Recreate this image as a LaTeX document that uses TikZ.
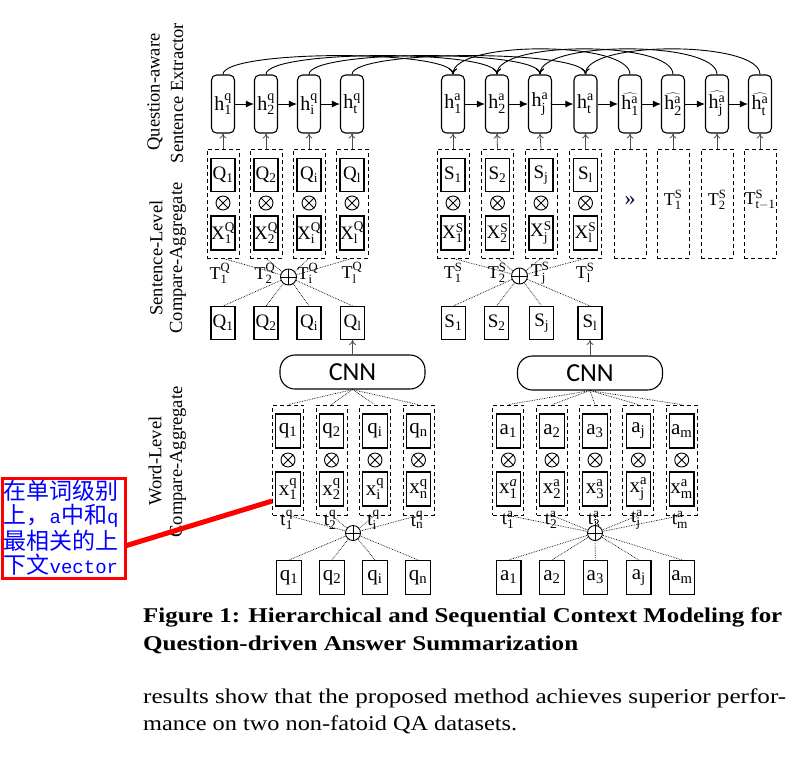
\documentclass[tikz,border=0pt]{standalone}
\usepackage{graphicx}
\usepackage{fontspec}
\setmainfont{Liberation Serif}
\newfontfamily\cjkf{Noto Sans CJK SC}
\newfontfamily\monof{Liberation Mono}
\newfontfamily\cnnf{Carlito}
\usetikzlibrary{arrows.meta,calc}
\newcommand{\lb}[3]{$\mathrm{#1}_{\mathrm{#2}}^{\mathrm{#3}}$}
\newcommand{\lbs}[2]{$\mathrm{#1}_{\mathrm{#2}}$}
\newcommand{\hh}[1]{$\widehat{\mathrm{h}_{\mathrm{#1}}^{\mathrm{a}}}$}
\newcommand{\mt}[1]{{\monof\fontsize{19}{24}\selectfont #1}}
\begin{document}
\begin{tikzpicture}[x=1pt,y=-1pt,
  hbox/.style={draw,line width=1.1pt,rounded corners=5pt,minimum width=23pt,minimum height=58pt,inner sep=0pt,font=\fontsize{20}{22}\selectfont},
  dbox/.style={draw,line width=0.8pt,dash pattern=on 4pt off 3pt,minimum width=32pt,minimum height=109pt,inner sep=0pt},
  wdbox/.style={dbox,minimum width=31pt,minimum height=110pt},
  sbox/.style={draw,line width=1.1pt,minimum width=24pt,minimum height=33pt,inner sep=0pt,font=\fontsize{19}{21}\selectfont},
  wbox/.style={draw,line width=1.1pt,minimum width=24.5pt,minimum height=34pt,inner sep=0pt,font=\fontsize{21}{23}\selectfont},
  tlab/.style={inner sep=0pt,font=\fontsize{18}{20}\selectfont},
  wtlab/.style={inner sep=0pt,font=\fontsize{19}{21}\selectfont},
  opl/.style={circle,draw,line width=0.9pt,fill=white,minimum size=16pt,inner sep=0pt},
  otm/.style={circle,draw,line width=0.9pt,minimum size=14pt,inner sep=0pt},
  dotl/.style={densely dotted,line width=0.7pt},
  uparr/.style={-{To[length=5pt,width=7pt]},line width=0.8pt,draw=black!70},
  arcln/.style={-{To[length=6pt,width=8pt]},line width=0.9pt},
  harr/.style={-{Latex[length=8pt,width=7pt]},line width=1pt},
  cnnbox/.style={draw,line width=1.1pt,rounded corners=15pt,minimum width=145pt,minimum height=34pt,font=\fontsize{26}{28}\cnnf},
  rl/.style={rotate=90,inner sep=0pt,font=\fontsize{18.5}{21}\selectfont},
  crossx/.style={line width=0.9pt}
]
\path[use as bounding box] (0,0) rectangle (808,756);

% rotated side labels
\node[rl] (l1) at (155,92) {Question-aware};
\node[rl] (l2) at (177,93) {Sentence Extractor};
\node[rl] (l3) at (156,258) {Sentence-Level};
\node[rl] (l4) at (178,258) {Compare-Aggregate};
\node[rl] (l5) at (155,461) {Word-Level};
\node[rl] (l6) at (178,462) {Compare-Aggregate};

% ---------- top h nodes ----------
\foreach \x/\s [count=\k] in {223/1,266/2,309/i,352/t}
  \node[hbox] (hq\k) at (\x,104) {\lb{h}{\s}{q}};
\foreach \x/\s [count=\k] in {453/1,497/2,540/j,585.5/t}
  \node[hbox] (ha\k) at (\x,104) {\lb{h}{\s}{a}};
\foreach \x/\s [count=\k] in {630/1,673/2,717/j,760/t}
  \node[hbox] (hh\k) at (\x,104) {\hh{\s}};

\foreach \i/\j in {1/2,2/3,3/4} \draw[harr] (hq\i) -- (hq\j);
\foreach \i/\j in {1/2,2/3,3/4} \draw[harr] (ha\i) -- (ha\j);
\draw[harr] (ha4) -- (hh1);
\foreach \i/\j in {1/2,2/3,3/4} \draw[harr] (hh\i) -- (hh\j);

\foreach \k in {1,...,4} {
  \draw[arcln] (hq\k.north) .. controls ($(hq\k.north)+(0,-25)$) and ($(ha\k.north)+(0,-25)$) .. (ha\k.north);
  \draw[arcln] (hh\k.north) .. controls ($(hh\k.north)+(0,-34)$) and ($(ha\k.north)+(0,-34)$) .. (ha\k.north);
}

% ---------- sentence level ----------
\foreach \x/\s [count=\k] in {223/1,266/2,309/i,352/l} {
  \node[dbox] (dq\k) at (\x,203.5) {};
  \node[sbox] (Qa\k) at (\x,175) {\lbs{Q}{\s}};
  \node[otm] (oq\k) at (\x,203) {};
  \draw[crossx] (oq\k.north east) -- (oq\k.south west) (oq\k.north west) -- (oq\k.south east);
  \node[sbox,minimum height=34pt] (Xq\k) at (\x,233) {\lb{X}{\s}{Q}};
  \draw[uparr] (dq\k.north) -- (hq\k.south);
}
\foreach \x/\s [count=\k] in {453/1,497.5/2,541/j,585.5/l} {
  \node[dbox] (ds\k) at (\x,203.5) {};
  \node[sbox] (Sa\k) at (\x,175) {\lbs{S}{\s}};
  \node[otm] (os\k) at (\x,203) {};
  \draw[crossx] (os\k.north east) -- (os\k.south west) (os\k.north west) -- (os\k.south east);
  \node[sbox,minimum height=34pt] (Xs\k) at (\x,233) {\lb{X}{\s}{S}};
  \draw[uparr] (ds\k.north) -- (ha\k.south);
}
\foreach \x [count=\k] in {630,673,717,760} {
  \node[dbox] (de\k) at (\x,203.5) {};
  \draw[uparr] (de\k.north) -- (hh\k.south);
}
\node[inner sep=0pt,font=\fontsize{22}{24}\selectfont,text=black!80!blue] (gg) at (630,201) {»};
\node[tlab] (te1) at (673,200) {\lb{T}{1}{S}};
\node[tlab] (te2) at (717,200) {\lb{T}{2}{S}};
\node[tlab] (te3) at (760,200) {\lb{T}{t-1}{S}};

% T labels
\foreach \x/\s [count=\k] in {220/1,265/2,308/i,352/l}
  \node[tlab] (tq\k) at (\x,273) {\lb{T}{\s}{Q}};
\foreach \x/\s [count=\k] in {453/1,497/2,540/j,585/l}
  \node[tlab] (ts\k) at (\x,273) {\lb{T}{\s}{S}};

% bottom sentence boxes
\foreach \x/\s [count=\k] in {223/1,266/2,309/i,352.5/l}
  \node[sbox] (Qb\k) at (\x,323) {\lbs{Q}{\s}};
\foreach \x/\s [count=\k] in {453.3/1,496.7/2,541.7/j,590/l}
  \node[sbox] (Sb\k) at (\x,323) {\lbs{S}{\s}};

\coordinate (opqc) at (288.5,277);
\coordinate (opsc) at (519.5,276);
\foreach \k in {1,...,4} {
  \draw[dotl] (dq\k.south) -- (opqc);
  \draw[dotl] (opqc) -- (Qb\k.north);
  \draw[dotl] (ds\k.south) -- (opsc);
  \draw[dotl] (opsc) -- (Sb\k.north);
}
\node[opl] (opq) at (opqc) {};
\draw[crossx] (opq.north) -- (opq.south) (opq.west) -- (opq.east);
\node[opl] (ops) at (opsc) {};
\draw[crossx] (ops.north) -- (ops.south) (ops.west) -- (ops.east);

% ---------- CNN ----------
\node[cnnbox] (cnnq) at (352.5,372) {CNN};
\node[cnnbox] (cnna) at (590,373) {CNN};
\draw[uparr] (cnnq.north) -- (Qb4.south);
\draw[uparr] (cnna.north) -- (Sb4.south);

% ---------- word level ----------
\foreach \x/\s [count=\k] in {288/1,331.5/2,375/i,418.5/n} {
  \node[wdbox] (wq\k) at (\x,460) {};
  \node[wbox] (qa\k) at (\x,431) {\lbs{q}{\s}};
  \node[otm] (owq\k) at (\x,460) {};
  \draw[crossx] (owq\k.north east) -- (owq\k.south west) (owq\k.north west) -- (owq\k.south east);
  \node[wbox] (xq\k) at (\x,489) {\lb{x}{\s}{q}};
  \draw[dotl] (cnnq.south) -- (wq\k.north);
}
\foreach \x/\s/\su [count=\k] in {508.3/1/\mathit{a},552/2/a,595/3/a,638.3/j/a,681.7/m/a} {
  \node[wdbox] (wa\k) at (\x,460) {};
  \node[wbox] (aa\k) at (\x,431) {\lbs{a}{\s}};
  \node[otm] (owa\k) at (\x,460) {};
  \draw[crossx] (owa\k.north east) -- (owa\k.south west) (owa\k.north west) -- (owa\k.south east);
  \node[wbox] (xa\k) at (\x,489) {\lb{x}{\s}{\su}};
  \draw[dotl] (cnna.south) -- (wa\k.north);
}
\foreach \x/\s [count=\k] in {289/1,332/2,375/i,418/n}
  \node[wbox] (qb\k) at (\x,577.5) {\lbs{q}{\s}};
\foreach \x/\s [count=\k] in {508.7/1,552/2,595.3/3,638.7/j,682/m}
  \node[wbox] (ab\k) at (\x,577.5) {\lbs{a}{\s}};

\coordinate (owqc) at (353,533);
\coordinate (owac) at (595,533);
\foreach \k in {1,...,4} {
  \draw[dotl] (wq\k.south) -- (owqc);
  \draw[dotl] (owqc) -- (qb\k.north);
}
\foreach \k in {1,...,5} {
  \draw[dotl] (wa\k.south) -- (owac);
  \draw[dotl] (owac) -- (ab\k.north);
}
\foreach \x/\s [count=\k] in {286.7/1,330/2,373.5/i,417/n}
  \node[wtlab] (twq\k) at (\x,520) {\lb{t}{\s}{q}};
\foreach \x/\s [count=\k] in {508/1,551/2,594/3,637/j,680/m}
  \node[wtlab] (twa\k) at (\x,520) {\lb{t}{\s}{a}};
\node[opl,minimum size=15pt] (owq) at (owqc) {};
\draw[crossx] (owq.north) -- (owq.south) (owq.west) -- (owq.east);
\node[opl,minimum size=15pt] (owa) at (owac) {};
\draw[crossx] (owa.north) -- (owa.south) (owa.west) -- (owa.east);

% ---------- annotation ----------
\node[draw=red,line width=3pt,minimum width=123pt,minimum height=100pt,inner sep=0pt] (ann) at (63.5,528) {};
\tikzset{cj/.style={anchor=west,inner sep=0pt,text=blue,font=\cjkf\fontsize{23}{24}\selectfont}}
\node[cj] (an1) at (3.5,491) {在单词级别};
\node[cj] (an2) at (3.5,516) {上，\mt{a}中和\mt{q}};
\node[cj] (an3) at (3.5,541) {最相关的上};
\node[cj] (an4) at (3.5,565) {下文\mt{vector}};
\draw[red,line width=5pt] ($(ann.north east)!0.67!(ann.south east)$) -- ($(wq1.west)+(0,41)$);

% ---------- caption and body ----------
\node[anchor=base west,inner sep=0pt] (cap1) at (143,622) {\resizebox{639pt}{\height}{\fontsize{21}{25}\selectfont\bfseries Figure 1: Hierarchical and Sequential Context Modeling for}};
\node[anchor=base west,inner sep=0pt] (cap2) at (143,650) {\resizebox{435pt}{\height}{\fontsize{21}{25}\selectfont\bfseries Question-driven Answer Summarization}};
\node[anchor=base west,inner sep=0pt] (body1) at (143,703) {\resizebox{643pt}{\height}{\fontsize{21}{25}\selectfont results show that the proposed method achieves superior perfor-}};
\node[anchor=base west,inner sep=0pt] (body2) at (143,730) {\resizebox{374pt}{\height}{\fontsize{21}{25}\selectfont mance on two non-fatoid QA datasets.}};
\end{tikzpicture}
\end{document}
